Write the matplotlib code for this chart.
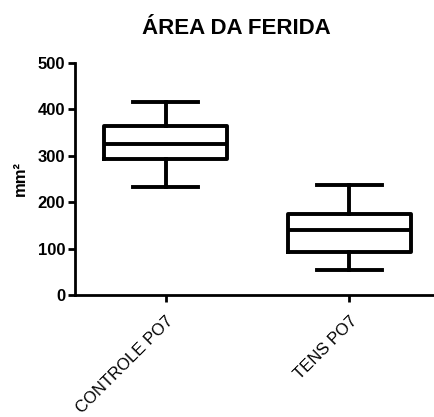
import matplotlib
matplotlib.use("Agg")
import matplotlib.pyplot as plt

# box-and-whisker stats (min to max whiskers)
groups = ["CONTROLE PO7", "TENS PO7"]
whis_low = [233, 54]
q1 = [293, 92]
median = [326, 139]
q3 = [364, 174]
whis_high = [415, 237]
y_ticks = [0, 100, 200, 300, 400, 500]

plt.rcParams["font.family"] = ["Liberation Sans", "DejaVu Sans"]

fig = plt.figure(figsize=(4.34, 4.17), dpi=100)
ax = fig.add_axes([0.1728, 0.2926, 0.8272, 0.557])

stats = []
for name, lo, a, m, b, hi in zip(groups, whis_low, q1, median, q3, whis_high):
    stats.append({"label": name, "whislo": lo, "q1": a, "med": m,
                  "q3": b, "whishi": hi, "fliers": []})

lw = 2.8
ax.bxp(stats, positions=[1, 2], widths=0.67, showfliers=False,
       boxprops=dict(linewidth=lw, color="black"),
       medianprops=dict(linewidth=lw, color="black"),
       whiskerprops=dict(linewidth=lw, color="black"),
       capprops=dict(linewidth=lw, color="black"),
       capwidths=0.355)

ax.set_xlim(0.506, 2.461)
ax.set_ylim(0, 500)
ax.set_yticks(y_ticks)
ax.set_yticklabels([str(v) for v in y_ticks], fontsize=12, fontweight="bold")
ax.set_xticks([1, 2])
ax.set_xticklabels(groups, rotation=45, ha="right", rotation_mode="anchor",
                   fontsize=12)

for side in ("top", "right"):
    ax.spines[side].set_visible(False)
for side in ("left", "bottom"):
    ax.spines[side].set_linewidth(2.0)
ax.tick_params(axis="y", width=2.0, length=5, pad=2)
ax.tick_params(axis="x", width=2.0, length=5, pad=8)

ax.set_ylabel("mm²", fontsize=12, fontweight="bold", labelpad=7)
fig.text(0.545, 0.932, "ÁREA DA FERIDA", ha="center", va="center",
         fontsize=16, fontweight="bold")

fig.savefig("out.png", dpi=100)
